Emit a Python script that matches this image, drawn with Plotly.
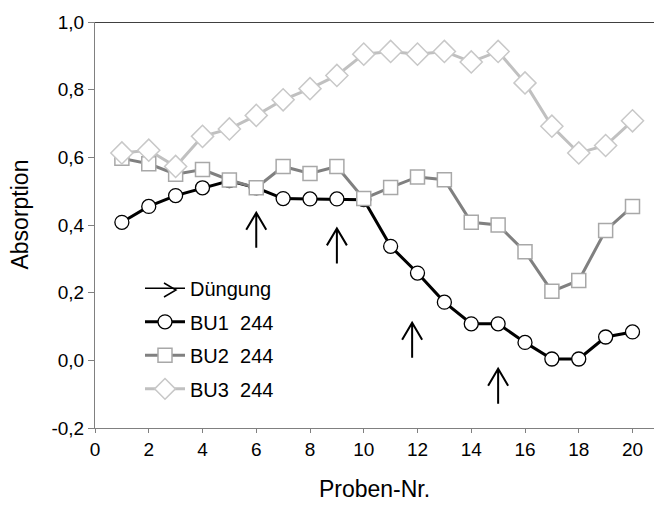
import plotly.graph_objects as go

# ---- data ----
probe = list(range(1, 21))
bu1 = [0.408, 0.455, 0.487, 0.510, 0.531, 0.510, 0.478, 0.477, 0.477, 0.475,
       0.337, 0.258, 0.172, 0.108, 0.108, 0.053, 0.004, 0.004, 0.069, 0.084]
bu2 = [0.597, 0.581, 0.550, 0.564, 0.533, 0.510, 0.573, 0.552, 0.573, 0.478,
       0.511, 0.542, 0.534, 0.408, 0.400, 0.321, 0.204, 0.236, 0.384, 0.455]
bu3 = [0.613, 0.621, 0.573, 0.662, 0.684, 0.724, 0.770, 0.803, 0.842, 0.905,
       0.913, 0.905, 0.913, 0.882, 0.913, 0.820, 0.692, 0.613, 0.635, 0.708]
series_names = ["BU1  244", "BU2  244", "BU3  244"]
arrow_x = [6, 9, 11.8, 15]
arrow_top = [0.436, 0.390, 0.111, -0.025]
x_ticks = [0, 2, 4, 6, 8, 10, 12, 14, 16, 18, 20]
y_ticks = [-0.2, 0.0, 0.2, 0.4, 0.6, 0.8, 1.0]
y_ticktext = ["-0,2", "0,0", "0,2", "0,4", "0,6", "0,8", "1,0"]

FONT = "Liberation Sans, Arial, sans-serif"

fig = go.Figure()

# legend entry for fertilisation arrow
fig.add_trace(go.Scatter(x=[None], y=[None], mode="lines", name="Düngung",
                         line=dict(color="black", width=1.5), legendgroup="d"))

fig.add_trace(go.Scatter(x=probe, y=bu1, mode="lines+markers", name=series_names[0],
                         legendgroup="a",
                         line=dict(color="black", width=3),
                         marker=dict(symbol="circle", size=14, color="white",
                                     line=dict(color="black", width=1.3))))
fig.add_trace(go.Scatter(x=probe, y=bu2, mode="lines+markers", name=series_names[1],
                         legendgroup="b",
                         line=dict(color="#808080", width=3),
                         marker=dict(symbol="square", size=14, color="white",
                                     line=dict(color="#a8a8a8", width=1.5))))
fig.add_trace(go.Scatter(x=probe, y=bu3, mode="lines+markers", name=series_names[2],
                         legendgroup="c",
                         line=dict(color="#c0c0c0", width=3),
                         marker=dict(symbol="diamond", size=17, color="white",
                                     line=dict(color="#c8c8c8", width=1.5))))

shapes = []
# top border line
shapes.append(dict(type="line", xref="paper", x0=0, x1=1, yref="y", y0=1.0, y1=1.0,
                   line=dict(color="black", width=1.3)))
# fertilisation arrows
for ax_, ay_ in zip(arrow_x, arrow_top):
    shapes.append(dict(type="path", xref="x", yref="y", xsizemode="pixel", ysizemode="pixel",
                       xanchor=ax_, yanchor=ay_,
                       path="M0,0 L0,-35 M-10,-17 L0,0 L10,-17",
                       line=dict(color="black", width=2)))
# arrow head for the legend entry "Düngung"
shapes.append(dict(type="path", xref="paper", yref="paper", xsizemode="pixel",
                   ysizemode="pixel", xanchor=(176 - 95) / 559, yanchor=(428 - 290) / 406,
                   path="M-12,7 L0,0 L-12,-7", line=dict(color="black", width=1.5)))

fig.update_layout(
    width=654, height=506,
    margin=dict(l=95, r=0, t=22, b=78),
    paper_bgcolor="white", plot_bgcolor="white",
    font=dict(family=FONT, color="black", size=19),
    showlegend=True,
    legend=dict(x=0.0805, xanchor="left", y=0.392, yanchor="top",
                font=dict(size=20, family=FONT), itemwidth=40,
                tracegroupgap=4.5, bgcolor="rgba(0,0,0,0)"),
    shapes=shapes,
    xaxis=dict(range=[0, 20.8], tickvals=x_ticks, ticks="outside", ticklen=4,
               tickcolor="#808080", showline=True, linecolor="#808080", linewidth=1,
               showgrid=False, zeroline=False, tickfont=dict(size=19),
               title=dict(text="Proben-Nr.", font=dict(size=23), standoff=22)),
    yaxis=dict(range=[-0.2, 1.0], tickvals=y_ticks, ticktext=y_ticktext, ticks="outside",
               ticklen=6, tickcolor="#808080", showline=True, linecolor="#808080",
               linewidth=1, showgrid=False, zeroline=False, tickfont=dict(size=19)),
    annotations=[dict(text="Absorption", textangle=-90, xref="paper", yref="paper",
                      x=-0.134, y=0.526, xanchor="center", yanchor="middle",
                      showarrow=False, font=dict(size=23))],
)

fig.write_html("out.html")
